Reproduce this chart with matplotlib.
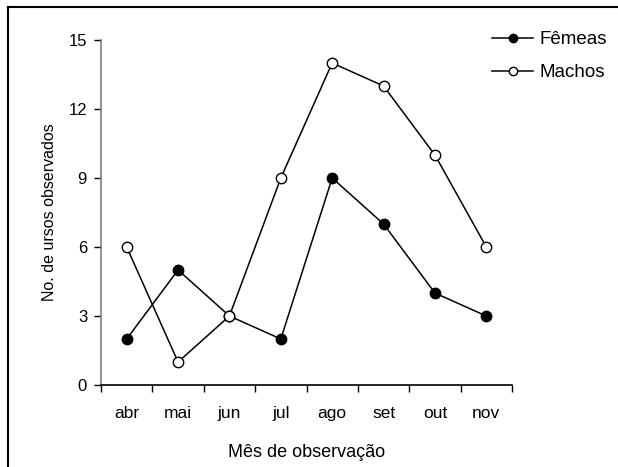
import matplotlib.pyplot as plt
from matplotlib.lines import Line2D

plt.rcParams['font.family'] = ['Liberation Sans', 'DejaVu Sans']

meses = ['abr', 'mai', 'jun', 'jul', 'ago', 'set', 'out', 'nov']
femeas = [2, 5, 3, 2, 9, 7, 4, 3]
machos = [6, 1, 3, 9, 14, 13, 10, 6]

W, H = 618, 467
fig = plt.figure(figsize=(W / 100, H / 100), dpi=100)
ax = fig.add_axes([101 / W, 1 - 385 / H, 411 / W, 345 / H])

x = range(len(meses))
ax.plot(x, femeas, color='black', lw=1.1, marker='o', ms=7.5,
        mfc='black', mec='black', label='Fêmeas', clip_on=False)
ax.plot(x, machos, color='black', lw=1.1, marker='o', ms=7.5,
        mfc='white', mec='black', mew=1.0, label='Machos', clip_on=False)

ax.set_xlim(-0.5, len(meses) - 0.5)
ax.set_ylim(0, 15)
ax.set_yticks([0, 3, 6, 9, 12, 15])
ax.set_xticks(x)
ax.set_xticklabels(meses)
ax.set_xticks([i - 0.5 for i in range(len(meses) + 1)], minor=True)
ax.tick_params(axis='x', which='major', length=0, pad=15, labelsize=12.5)
ax.tick_params(axis='x', which='minor', length=5, width=1, direction='out')
ax.tick_params(axis='y', length=5, width=1, direction='out', labelsize=12, pad=5)

ax.spines['top'].set_visible(False)
ax.spines['right'].set_visible(False)
ax.spines['left'].set_color('#808080')
ax.spines['left'].set_linewidth(1.2)
ax.spines['bottom'].set_linewidth(1.2)

ax.set_xlabel('Mês de observação', fontsize=13, labelpad=17)
ax.set_ylabel('No. de ursos observados', fontsize=11.5, labelpad=8)

ax.legend(loc='upper left', bbox_to_anchor=(492 / W, 1 - 31 / H),
          bbox_transform=fig.transFigure, borderaxespad=0, borderpad=0,
          frameon=False, fontsize=13.5, handlelength=2.2, handletextpad=0.32,
          labelspacing=0.86, markerscale=0.8)

# partial frame around the figure
fig.add_artist(Line2D([8 / W, 8 / W], [0, 1 - 7 / H], color='black', lw=1.5))
fig.add_artist(Line2D([8 / W, 1], [1 - 7 / H, 1 - 7 / H], color='black', lw=1.5))

fig.savefig('out.png', dpi=100)
